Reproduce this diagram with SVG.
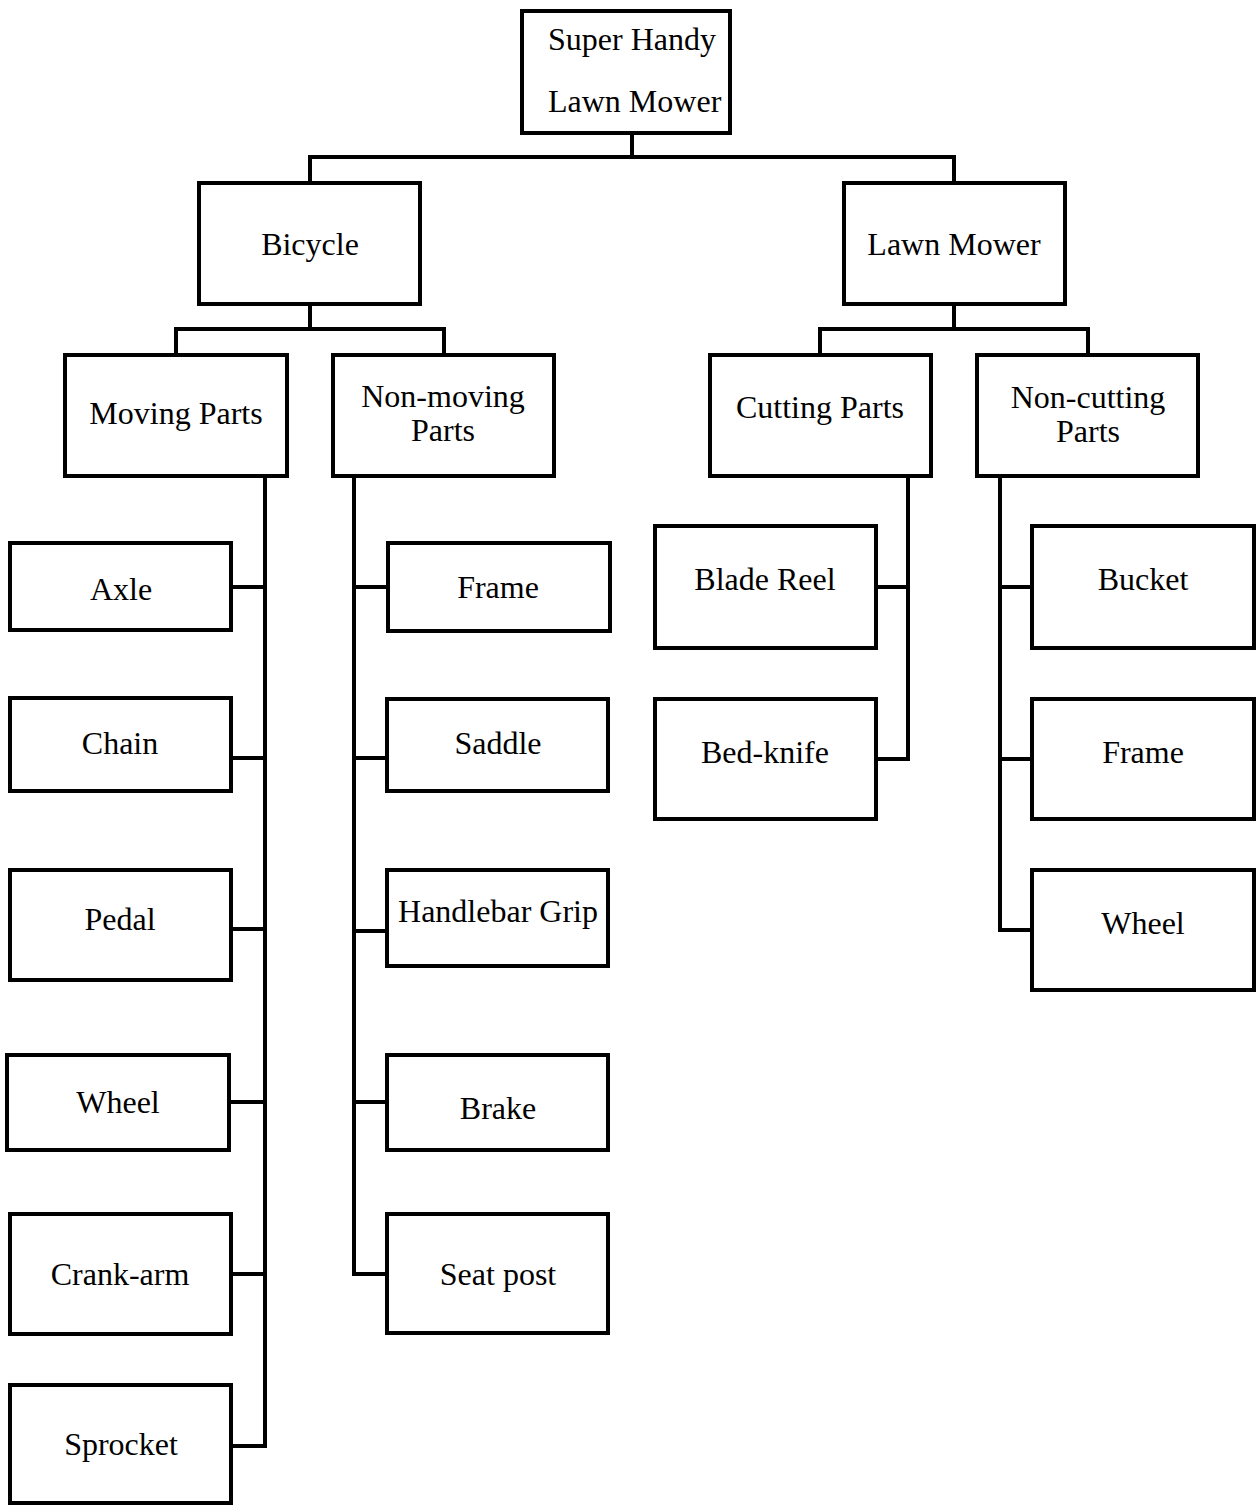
<svg xmlns="http://www.w3.org/2000/svg" width="1257" height="1506" viewBox="0 0 1257 1506">
<style>
.box{fill:#fff;stroke:#000;stroke-width:4}
.c{fill:none;stroke:#000;stroke-width:4;stroke-linejoin:miter;stroke-linecap:square}
text{font-family:"Liberation Serif","Times New Roman",serif;font-size:32px;fill:#000}
.m{text-anchor:middle}
</style>
<rect width="1257" height="1506" fill="#fff"/>
<g id="connectors">
<path class="c" d="M632,133V157M310,157H954M310,157V183M954,157V183"/>
<path class="c" d="M310,304V329M176,329H444M176,329V355M444,329V355"/>
<path class="c" d="M954,304V329M820,329H1088M820,329V355M1088,329V355"/>
<path class="c" d="M265,476V1446M231,587H265M231,758H265M231,929H265M229,1102H265M231,1274H265M231,1446H265"/>
<path class="c" d="M354,476V1274M354,587H388M354,758H387M354,931H387M354,1102H387M354,1274H387"/>
<path class="c" d="M908,476V759M876,587H908M876,759H908"/>
<path class="c" d="M1000,476V930M1000,587H1032M1000,759H1032M1000,930H1032"/>
</g>
<g id="n-root"><rect class="box" x="522" y="11" width="208" height="122"/><text x="548" y="50">Super Handy</text><text x="548" y="112">Lawn Mower</text></g>
<g id="n-bicycle"><rect class="box" x="199" y="183" width="221" height="121"/><text class="m" x="310" y="255">Bicycle</text></g>
<g id="n-lawnmower"><rect class="box" x="844" y="183" width="221" height="121"/><text class="m" x="954" y="255">Lawn Mower</text></g>
<g id="n-moving"><rect class="box" x="65" y="355" width="222" height="121"/><text class="m" x="176" y="424">Moving Parts</text></g>
<g id="n-nonmoving"><rect class="box" x="333" y="355" width="221" height="121"/><text class="m" x="443" y="407">Non-moving</text><text class="m" x="443" y="441">Parts</text></g>
<g id="n-cutting"><rect class="box" x="710" y="355" width="221" height="121"/><text class="m" x="820" y="418">Cutting Parts</text></g>
<g id="n-noncutting"><rect class="box" x="977" y="355" width="221" height="121"/><text class="m" x="1088" y="408">Non-cutting</text><text class="m" x="1088" y="442">Parts</text></g>
<g id="n-axle"><rect class="box" x="10" y="543" width="221" height="87"/><text class="m" x="121" y="600">Axle</text></g>
<g id="n-chain"><rect class="box" x="10" y="698" width="221" height="93"/><text class="m" x="120" y="754">Chain</text></g>
<g id="n-pedal"><rect class="box" x="10" y="870" width="221" height="110"/><text class="m" x="120" y="930">Pedal</text></g>
<g id="n-wheel1"><rect class="box" x="7" y="1055" width="222" height="95"/><text class="m" x="118" y="1113">Wheel</text></g>
<g id="n-crank"><rect class="box" x="10" y="1214" width="221" height="120"/><text class="m" x="120" y="1285">Crank-arm</text></g>
<g id="n-sprocket"><rect class="box" x="10" y="1385" width="221" height="118"/><text class="m" x="121" y="1455">Sprocket</text></g>
<g id="n-frame1"><rect class="box" x="388" y="543" width="222" height="88"/><text class="m" x="498" y="598">Frame</text></g>
<g id="n-saddle"><rect class="box" x="387" y="699" width="221" height="92"/><text class="m" x="498" y="754">Saddle</text></g>
<g id="n-handlebar"><rect class="box" x="387" y="870" width="221" height="96"/><text class="m" x="498" y="922">Handlebar Grip</text></g>
<g id="n-brake"><rect class="box" x="387" y="1055" width="221" height="95"/><text class="m" x="498" y="1119">Brake</text></g>
<g id="n-seatpost"><rect class="box" x="387" y="1214" width="221" height="119"/><text class="m" x="498" y="1285">Seat post</text></g>
<g id="n-bladereel"><rect class="box" x="655" y="526" width="221" height="122"/><text class="m" x="765" y="590">Blade Reel</text></g>
<g id="n-bedknife"><rect class="box" x="655" y="699" width="221" height="120"/><text class="m" x="765" y="763">Bed-knife</text></g>
<g id="n-bucket"><rect class="box" x="1032" y="526" width="222" height="122"/><text class="m" x="1143" y="590">Bucket</text></g>
<g id="n-frame2"><rect class="box" x="1032" y="699" width="222" height="120"/><text class="m" x="1143" y="763">Frame</text></g>
<g id="n-wheel2"><rect class="box" x="1032" y="870" width="222" height="120"/><text class="m" x="1143" y="934">Wheel</text></g>
</svg>
